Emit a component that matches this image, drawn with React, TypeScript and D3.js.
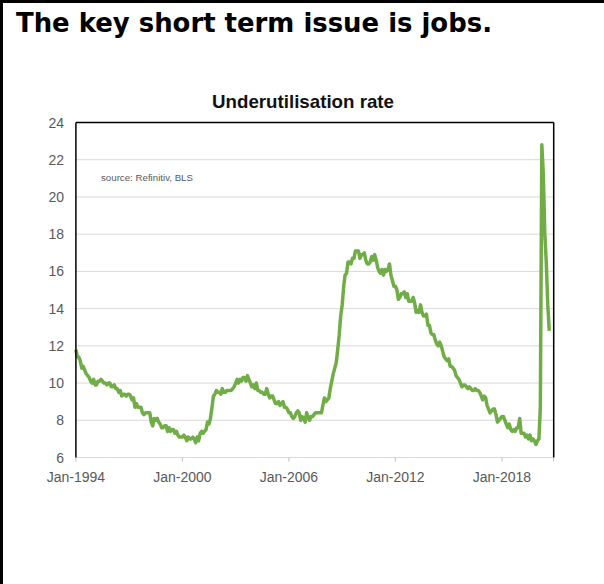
import React from "react";
import * as d3 from "d3";

const startYear = 1994;
const u6_1994 = [11.8, 11.4, 11.4, 11.2, 10.8, 10.9, 10.7, 10.5, 10.4, 10.3, 10.1, 10.0];
const u6_1995 = [10.2, 9.9, 9.9, 10.1, 10.1, 10.2, 10.1, 10.0, 10.0, 9.9, 10.0, 10.0];
const u6_1996 = [9.8, 9.8, 9.9, 9.7, 9.7, 9.5, 9.6, 9.3, 9.4, 9.4, 9.3, 9.4];
const u6_1997 = [9.4, 9.3, 9.1, 9.2, 8.7, 8.9, 8.7, 8.7, 8.7, 8.4, 8.3, 8.4];
const u6_1998 = [8.4, 8.4, 8.4, 7.9, 7.7, 8.1, 8.0, 8.1, 7.9, 7.8, 7.6, 7.6];
const u6_1999 = [7.7, 7.7, 7.4, 7.6, 7.4, 7.5, 7.5, 7.3, 7.4, 7.2, 7.1, 7.1];
const u6_2000 = [7.1, 7.2, 7.1, 6.9, 7.1, 7.0, 7.0, 7.1, 7.0, 6.8, 7.1, 6.9];
const u6_2001 = [7.3, 7.4, 7.3, 7.4, 7.5, 7.9, 7.8, 8.1, 8.7, 9.3, 9.4, 9.6];
const u6_2002 = [9.5, 9.5, 9.4, 9.7, 9.5, 9.5, 9.6, 9.6, 9.6, 9.6, 9.7, 9.8];
const u6_2003 = [10.0, 10.2, 10.0, 10.2, 10.1, 10.3, 10.3, 10.1, 10.4, 10.2, 10.0, 9.8];
const u6_2004 = [9.9, 9.7, 10.0, 9.6, 9.6, 9.5, 9.5, 9.4, 9.4, 9.7, 9.4, 9.2];
const u6_2005 = [9.3, 9.3, 9.1, 8.9, 8.9, 9.0, 8.8, 8.9, 9.0, 8.7, 8.7, 8.6];
const u6_2006 = [8.4, 8.4, 8.2, 8.1, 8.2, 8.4, 8.5, 8.4, 8.0, 8.2, 8.1, 7.9];
const u6_2007 = [8.4, 8.2, 8.0, 8.2, 8.2, 8.3, 8.4, 8.4, 8.4, 8.4, 8.4, 8.8];
const u6_2008 = [9.2, 9.0, 9.1, 9.2, 9.7, 10.1, 10.5, 10.8, 11.1, 11.8, 12.6, 13.6];
const u6_2009 = [14.2, 15.2, 15.8, 15.9, 16.5, 16.5, 16.4, 16.7, 16.7, 17.1, 17.1, 17.1];
const u6_2010 = [16.7, 16.9, 16.9, 17.0, 16.6, 16.4, 16.4, 16.5, 16.8, 16.6, 16.9, 16.6];
const u6_2011 = [16.2, 16.0, 15.9, 16.1, 15.8, 16.1, 16.0, 16.1, 16.4, 15.8, 15.5, 15.2];
const u6_2012 = [15.2, 15.0, 14.5, 14.6, 14.8, 14.8, 14.9, 14.6, 14.8, 14.4, 14.4, 14.4];
const u6_2013 = [14.6, 14.3, 13.8, 13.9, 13.8, 14.2, 13.8, 13.6, 13.6, 13.7, 13.1, 13.1];
const u6_2014 = [12.7, 12.6, 12.6, 12.3, 12.1, 12.0, 12.2, 12.0, 11.7, 11.4, 11.3, 11.2];
const u6_2015 = [11.3, 10.9, 10.9, 10.8, 10.7, 10.4, 10.3, 10.2, 10.0, 9.8, 9.9, 9.9];
const u6_2016 = [9.8, 9.7, 9.8, 9.7, 9.6, 9.6, 9.7, 9.6, 9.6, 9.5, 9.3, 9.1];
const u6_2017 = [9.3, 9.2, 8.8, 8.6, 8.4, 8.5, 8.6, 8.6, 8.3, 7.9, 8.0, 8.1];
const u6_2018 = [8.2, 8.2, 8.0, 7.8, 7.6, 7.8, 7.5, 7.4, 7.5, 7.4, 7.6, 7.6];
const u6_2019 = [8.1, 7.3, 7.3, 7.3, 7.1, 7.2, 7.0, 7.2, 6.9, 7.0, 6.9, 6.7];
const u6_2020 = [6.9, 7.0, 8.7, 22.8, 21.2, 18.0, 16.5, 14.2, 12.8];

const allYears = [
  u6_1994, u6_1995, u6_1996, u6_1997, u6_1998, u6_1999, u6_2000, u6_2001, u6_2002,
  u6_2003, u6_2004, u6_2005, u6_2006, u6_2007, u6_2008, u6_2009, u6_2010, u6_2011,
  u6_2012, u6_2013, u6_2014, u6_2015, u6_2016, u6_2017, u6_2018, u6_2019, u6_2020,
];

const yTicks = [6, 8, 10, 12, 14, 16, 18, 20, 22, 24];
const xTickYears = [1994, 2000, 2006, 2012, 2018];

const mainTitle = "The key short term issue is jobs.";
const chartTitle = "Underutilisation rate";
const sourceText = "source:  Refinitiv, BLS";

type Pt = { date: Date; value: number };

export default function App() {
  const data: Pt[] = [];
  allYears.forEach((arr, yi) => {
    arr.forEach((v, m) => data.push({ date: new Date(startYear + yi, m, 1), value: v }));
  });

  const left = 75.9, right = 553.7, top = 122.5, bottom = 457.5;
  const x = d3.scaleTime().domain([new Date(1994, 0, 1), new Date(2020, 11, 1)]).range([left, right]);
  const y = d3.scaleLinear().domain([6, 24]).range([bottom, top]);
  const line = d3.line<Pt>().x((d) => x(d.date)).y((d) => y(d.value));

  const axisFont = "'Liberation Sans', Arial, sans-serif";
  return (
    <svg width={604} height={584} style={{ position: "absolute", left: 0, top: 0, background: "#fff" }}>
      <rect x={0} y={0} width={604} height={584} fill="#fff" />
      <line x1={0} x2={604} y1={1.5} y2={1.5} stroke="#000" strokeWidth={3} />
      <line x1={1.5} x2={1.5} y1={0} y2={584} stroke="#000" strokeWidth={3} />
      <text x={16} y={32} fontFamily="'DejaVu Sans', Verdana, sans-serif" fontWeight="bold" fontSize={27}
        textLength={476} lengthAdjust="spacingAndGlyphs" fill="#000">{mainTitle}</text>

      <text x={212} y={108} fontFamily={axisFont} fontWeight="bold" fontSize={18.5}
        textLength={182} lengthAdjust="spacingAndGlyphs" fill="#111">{chartTitle}</text>

      {yTicks.filter((t) => t > 6 && t < 24).map((t) => (
        <line key={"g" + t} x1={left} x2={right} y1={y(t)} y2={y(t)} stroke="#d9d9d9" strokeWidth={1} />
      ))}
      <line x1={left} x2={right} y1={bottom} y2={bottom} stroke="#d9d9d9" strokeWidth={1} />
      {xTickYears.map((yr) => {
        const xx = x(new Date(yr, 0, 1));
        return (
          <g key={"x" + yr}>
            <line x1={xx} x2={xx} y1={bottom} y2={bottom + 4} stroke="#bfbfbf" strokeWidth={1} />
            <text x={xx} y={482} textAnchor="middle" fontFamily={axisFont} fontSize={14} fill="#595959">{"Jan-" + yr}</text>
          </g>
        );
      })}
      <line x1={right} x2={right} y1={bottom} y2={bottom + 4} stroke="#bfbfbf" strokeWidth={1} />
      {yTicks.map((t) => (
        <text key={"y" + t} x={64} y={y(t) + 5} textAnchor="end" fontFamily={axisFont} fontSize={14} fill="#595959">{t}</text>
      ))}

      <path d={line(data) || ""} fill="none" stroke="#70ad47" strokeWidth={3.5} strokeLinejoin="round" />

      <line x1={left} x2={left} y1={top} y2={bottom} stroke="#000" strokeWidth={1.5} />
      <line x1={left} x2={right} y1={top} y2={top} stroke="#000" strokeWidth={1.5} />
      <line x1={right} x2={right} y1={top} y2={bottom} stroke="#000" strokeWidth={1.5} />

      <text x={101} y={181} fontFamily={axisFont} fontSize={8.5} textLength={92} lengthAdjust="spacingAndGlyphs"
        fill="#595959">{sourceText}</text>
    </svg>
  );
}
